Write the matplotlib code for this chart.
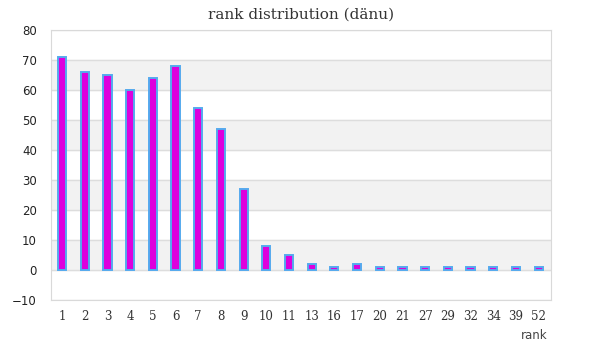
import matplotlib
matplotlib.use("Agg")
import matplotlib.pyplot as plt

# rank categories and counts
ranks = ["1", "2", "3", "4", "5", "6", "7", "8", "9", "10", "11", "13",
         "16", "17", "20", "21", "27", "29", "32", "34", "39", "52"]
counts = [71, 66, 65, 60, 64, 68, 54, 47, 27, 8, 5, 2,
          1, 2, 1, 1, 1, 1, 1, 1, 1, 1]

fig = plt.figure(figsize=(6, 3.6), dpi=100)
ax = fig.add_axes([0.0845, 0.1667, 0.8333, 0.75])

# alternate grey bands
for lo in range(0, 80, 20):
    ax.axhspan(lo, lo + 10, color="#f2f2f2", zorder=0)
ax.yaxis.grid(True, color="#dddddd", linewidth=1)
ax.set_axisbelow(True)

x = list(range(len(ranks)))
ax.bar(x, counts, width=0.36, color="#dd00dd", edgecolor="#55aaee",
       linewidth=1.4, zorder=3)

ax.set_xlim(-0.5, len(ranks) - 0.47)
ax.set_ylim(-10, 80)
ax.set_yticks(range(-10, 81, 10))
ax.set_xticks(x)
ax.set_xticklabels(ranks, family="DejaVu Serif", fontsize=8.5, color="#333333")
for lab in ax.get_yticklabels():
    lab.set_fontsize(8.5)
    lab.set_color("#222222")
ax.tick_params(axis="both", length=0)
ax.tick_params(axis="y", pad=10)
ax.tick_params(axis="x", pad=7)
for s in ax.spines.values():
    s.set_color("#d9d9d9")

ax.set_title("rank distribution (dänu)", family="DejaVu Serif", fontsize=11,
             color="#333333", pad=8)
fig.text(0.913, 0.069, "rank", ha="right", va="center", fontsize=8.5,
         color="#444444")

fig.savefig("out.png")
